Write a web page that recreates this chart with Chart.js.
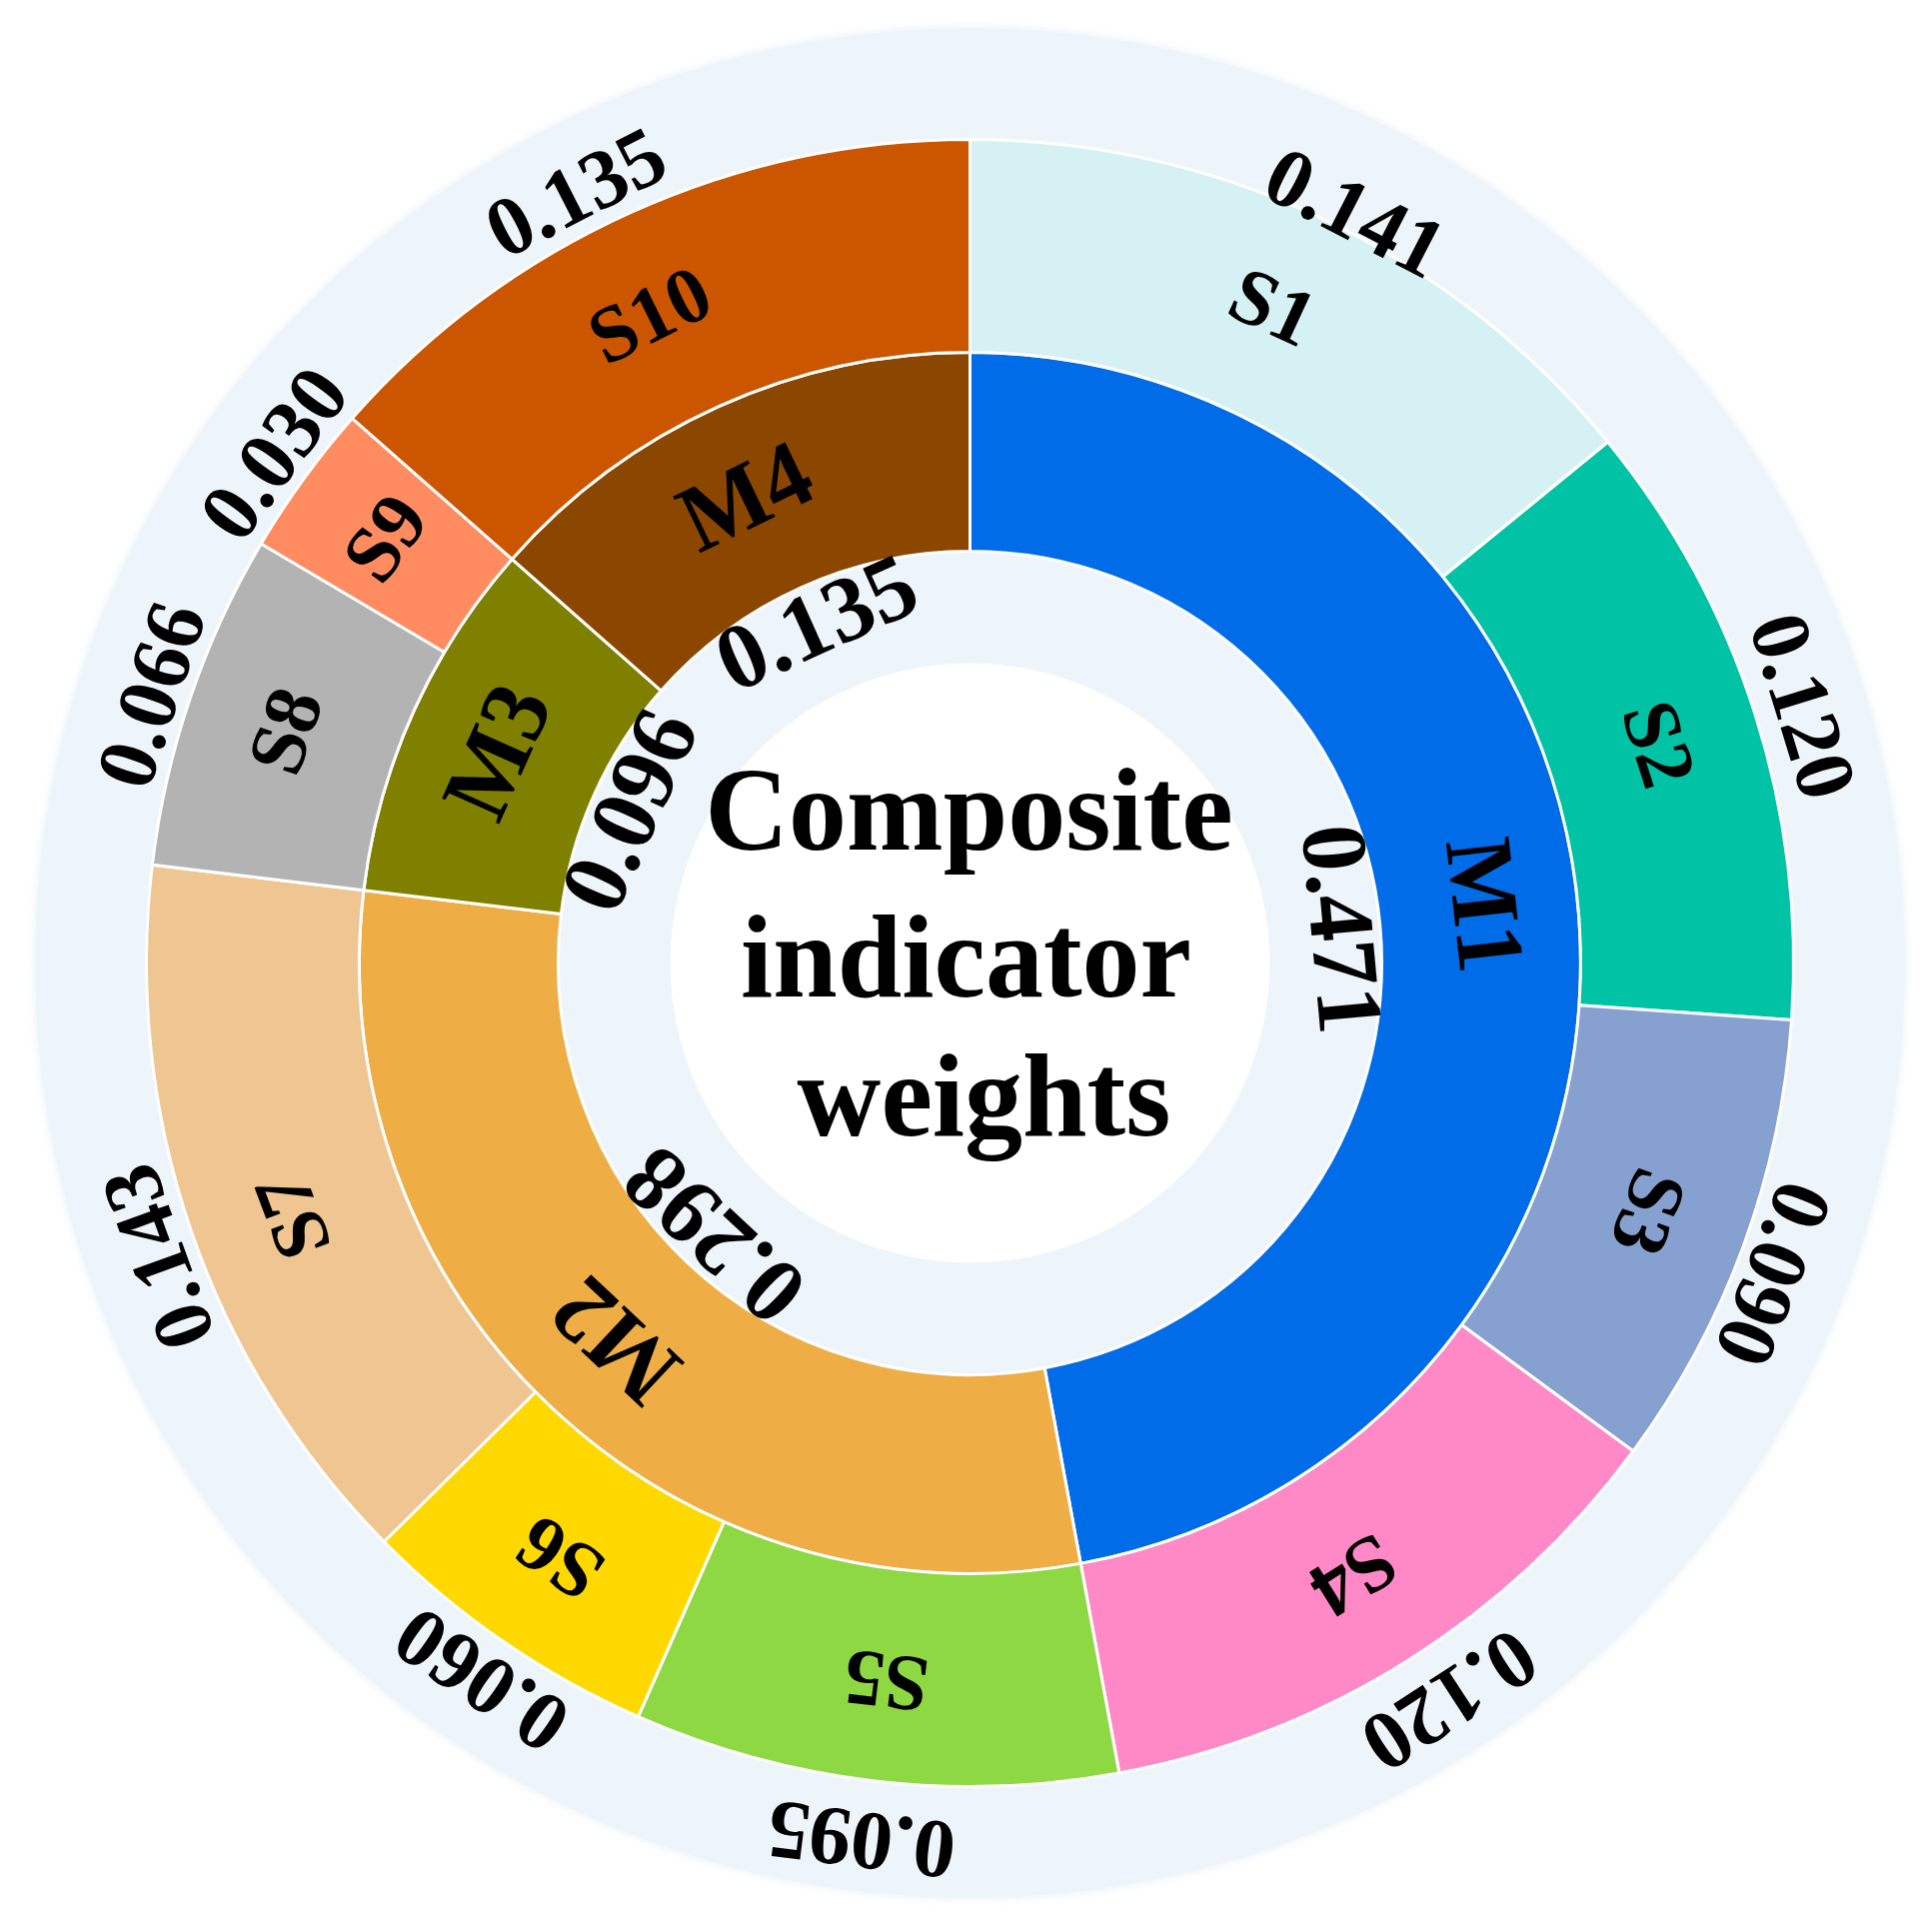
<!DOCTYPE html>
<html>
<head>
<meta charset="utf-8">
<script src="https://cdn.jsdelivr.net/npm/chart.js@4/dist/chart.umd.min.js"></script>
<style>
  html, body { margin: 0; padding: 0; background: #ffffff; }
  #wrap { width: 1933px; height: 1913px; }
</style>
</head>
<body>
<div id="wrap"><canvas id="c" width="1933" height="1913"></canvas></div>
<script>
// ---- data ----
const subLabels = ['S1', 'S2', 'S3', 'S4', 'S5', 'S6', 'S7', 'S8', 'S9', 'S10'];
const subWeights = [0.141, 0.120, 0.090, 0.120, 0.095, 0.060, 0.143, 0.066, 0.030, 0.135];
const subColors = ['#D5F1F4', '#00C3A6', '#86A1CF', '#FF88C7', '#8ED844', '#FFD800', '#EFC592', '#B3B3B3', '#FF8C60', '#CC5500'];

const mainLabels = ['M1', 'M2', 'M3', 'M4'];
const mainWeights = [0.471, 0.298, 0.096, 0.135];
const mainColors = ['#006CE8', '#EEAD45', '#808000', '#8B4700'];

const centerTitle = ['Composite', 'indicator', 'weights'];

// ---- styling (label nudges: radial px / angle degrees) ----
const FONT = '"Liberation Serif", "Times New Roman", serif';
const subValueRadialNudge = [-24, 4, -6, 12, 16, 0, -4, -6, -5, -2];
const subValueAngleNudge = [1.8, 0.5, 1.0, -1.0, 0.4, -0.3, -1.0, -0.6, 0.2, -2.8];
const subNameAngleNudge = [-0.6, 0, 0, 0, 0, 0, -1.6, 0, 0, -2.0];
const mainNameAngleNudge = [-1.2, 0, 0, -1.4];

const DEG = Math.PI / 180;

function drawRotatedText(ctx, cx, cy, angle, r, text, size, sy) {
  ctx.save();
  ctx.translate(cx, cy);
  ctx.rotate(angle);
  ctx.translate(0, -r);
  ctx.scale(1, sy || 1);
  ctx.font = 'bold ' + size + 'px ' + FONT;
  ctx.fillStyle = '#000000';
  ctx.textAlign = 'center';
  ctx.textBaseline = 'middle';
  ctx.fillText(text, 0, 0);
  ctx.restore();
}

const ringPlugin = {
  id: 'ringDecor',
  beforeDatasetsDraw(chart) {
    const arc = chart.getDatasetMeta(0).data[0];
    const cx = arc.x, cy = arc.y;
    const R = arc.outerRadius;
    const ctx = chart.ctx;
    ctx.save();
    ctx.shadowColor = 'rgba(225,238,247,0.9)';
    ctx.shadowBlur = 10;
    ctx.fillStyle = '#EEF5FA';
    ctx.beginPath();
    ctx.arc(cx, cy, R * 1.135, 0, Math.PI * 2);
    ctx.fill();
    ctx.shadowBlur = 8;
    ctx.shadowColor = 'rgba(238,245,250,1)';
    ctx.fillStyle = '#FFFFFF';
    ctx.beginPath();
    ctx.arc(cx, cy, R * 0.364, 0, Math.PI * 2);
    ctx.fill();
    ctx.restore();
  },
  afterDatasetsDraw(chart) {
    const ctx = chart.ctx;
    // outer ring (sub indicators)
    const outer = chart.getDatasetMeta(0);
    outer.data.forEach((a, i) => {
      const mid = (a.startAngle + a.endAngle) / 2 + Math.PI / 2;
      const rMid = (a.innerRadius + a.outerRadius) / 2;
      drawRotatedText(ctx, a.x, a.y, mid + subNameAngleNudge[i] * DEG, rMid, subLabels[i], 80, 1.0);
      drawRotatedText(ctx, a.x, a.y, mid + subValueAngleNudge[i] * DEG,
        a.outerRadius + 38 + subValueRadialNudge[i], subWeights[i].toFixed(3), 84, 1.0);
    });
    // inner ring (main indicators)
    const inner = chart.getDatasetMeta(1);
    inner.data.forEach((a, i) => {
      const mid = (a.startAngle + a.endAngle) / 2 + Math.PI / 2;
      const rMid = (a.innerRadius + a.outerRadius) / 2;
      drawRotatedText(ctx, a.x, a.y, mid + mainNameAngleNudge[i] * DEG, rMid, mainLabels[i], 93, 1.03);
      drawRotatedText(ctx, a.x, a.y, mid, a.innerRadius - 45, mainWeights[i].toFixed(3), 93, 1.0);
    });
    // center title
    const a0 = inner.data[0];
    ctx.save();
    ctx.fillStyle = '#000000';
    ctx.textAlign = 'center';
    ctx.textBaseline = 'alphabetic';
    const offs = [[-1, -114], [-4, 33], [14, 172]];
    centerTitle.forEach((t, k) => {
      ctx.save();
      ctx.translate(a0.x + offs[k][0], a0.y + offs[k][1]);
      ctx.scale(1, 1.03);
      ctx.font = 'bold 116px ' + FONT;
      ctx.fillText(t, 0, 0);
      ctx.restore();
    });
    ctx.restore();
  }
};

new Chart(document.getElementById('c'), {
  type: 'doughnut',
  data: {
    labels: subLabels,
    datasets: [
      {
        label: 'Sub-indicators',
        data: subWeights,
        backgroundColor: subColors,
        borderColor: '#ffffff',
        borderWidth: 3,
        weight: 212
      },
      {
        label: 'Main indicators',
        data: mainWeights,
        backgroundColor: mainColors,
        borderColor: '#ffffff',
        borderWidth: 3,
        weight: 198
      }
    ]
  },
  options: {
    responsive: false,
    animation: false,
    cutout: '50%',
    layout: { padding: { left: 145, right: 137, top: 138, bottom: 124 } },
    plugins: {
      legend: { display: false },
      tooltip: { enabled: false },
      title: { display: false }
    }
  },
  plugins: [ringPlugin]
});
</script>
</body>
</html>
